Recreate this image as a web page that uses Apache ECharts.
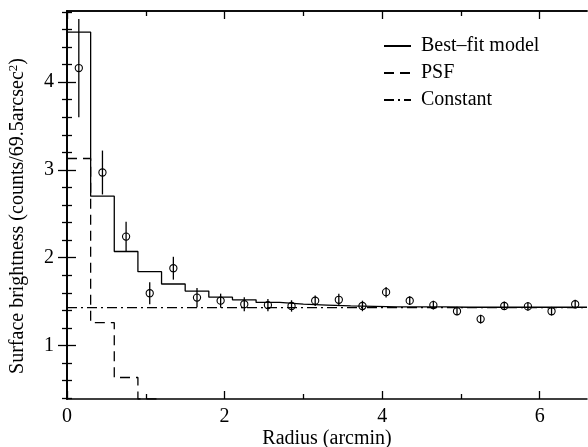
<!DOCTYPE html>
<html lang="en" style="height: 100%;">

<head>
    <meta charset="UTF-8">
    <title>Surface brightness profile</title>
    <script src="https://cdn.jsdelivr.net/npm/echarts@6.0.0/dist/echarts.min.js"></script>
</head>

<body style="margin: 0; height: 100%; background: #fff;">

    <div style="width: 588px;height: 447px;" id="profileChart"></div>

    <script>

        // observed profile (bin centres, values, 1-sigma errors)
        var radius = [0.15, 0.45, 0.75, 1.05, 1.35, 1.65, 1.95, 2.25, 2.55, 2.85, 3.15,
            3.45, 3.75, 4.05, 4.35, 4.65, 4.95, 5.25, 5.55, 5.85, 6.15, 6.45]
        var brightness = [4.16, 2.97, 2.24, 1.595, 1.88, 1.545, 1.51, 1.47, 1.46, 1.45, 1.51,
            1.52, 1.45, 1.607, 1.51, 1.46, 1.39, 1.30, 1.45, 1.445, 1.39, 1.47]
        var brightnessErr = [0.56, 0.25, 0.17, 0.125, 0.13, 0.11, 0.08, 0.08, 0.07, 0.065, 0.06,
            0.07, 0.06, 0.06, 0.05, 0.05, 0.05, 0.05, 0.05, 0.05, 0.05, 0.05]

        // model histograms: bin edges and one value per bin
        var binEdges = [0, 0.3, 0.6, 0.9, 1.2, 1.5, 1.8, 2.1, 2.4, 2.7, 3.0, 3.3,
            3.6, 3.9, 4.2, 4.5, 4.8, 5.1, 5.4, 5.7, 6.0, 6.3, 6.6]
        var bestFit = [4.57, 2.70, 2.07, 1.84, 1.70, 1.62, 1.55, 1.52, 1.49, 1.47, 1.46,
            1.45, 1.445, 1.44, 1.44, 1.44, 1.435, 1.435, 1.435, 1.435, 1.435, 1.435]
        var psf = [3.13, 1.26, 0.635, 0.39, 0.27, 0.19]
        var constantLevel = 1.43

        var xMajorTicks = [0, 2, 4, 6]
        var xMinorTicks = [1, 3, 5]
        var yMajorTicks = [1, 2, 3, 4]
        var yMinorTicks = [0.4, 0.6, 0.8, 1.2, 1.4, 1.6, 1.8, 2.2, 2.4, 2.6, 2.8,
            3.2, 3.4, 3.6, 3.8, 4.2, 4.4, 4.6, 4.8]

        var fontName = 'Liberation Serif'

        function stepData(values) {
            var out = values.map((v, i) => [binEdges[i], v])
            out.push([binEdges[values.length], values[values.length - 1]])
            return out
        }

        function makeX(pos, ticks, len, labels) {
            return {
                type: 'value', position: pos, min: 0, max: 6.6,
                axisLine: { show: !!labels || pos == 'top', lineStyle: { color: '#000', width: 1.5 } },
                axisTick: { show: true, inside: true, length: len, customValues: ticks, lineStyle: { color: '#000', width: 1.3 } },
                axisLabel: labels ? { show: true, customValues: ticks, margin: 8, color: '#000', fontFamily: fontName, fontSize: 20 } : { show: false },
                splitLine: { show: false }
            }
        }

        function makeY(pos, ticks, len, labels) {
            return {
                type: 'value', position: pos, min: 0.39, max: 4.81,
                axisLine: { show: !!labels || pos == 'right', lineStyle: { color: '#000', width: 1.5 } },
                axisTick: { show: true, inside: true, length: len, customValues: ticks, lineStyle: { color: '#000', width: 1.3 } },
                axisLabel: labels ? { show: true, customValues: ticks, margin: 13, color: '#000', fontFamily: fontName, fontSize: 20 } : { show: false },
                splitLine: { show: false }
            }
        }

        var xMain = makeX('bottom', xMajorTicks, 8, true)
        xMain.name = 'Radius (arcmin)'
        xMain.nameLocation = 'middle'
        xMain.nameGap = 30
        xMain.nameMoveOverlap = false
        xMain.nameTextStyle = { color: '#000', fontFamily: fontName, fontSize: 20 }

        let chart = echarts.init(document.getElementById('profileChart'))

        var option = {
            animation: false,
            backgroundColor: '#fff',
            grid: { left: 67, right: 1, top: 11, bottom: 48, containLabel: false, outerBoundsMode: 'none' },
            legend: {
                data: ['Best\u2013fit model', 'PSF', 'Constant'],
                orient: 'vertical',
                left: 378, top: 31,
                itemWidth: 27, itemHeight: 14, itemGap: 7,
                itemStyle: { opacity: 0 },
                textStyle: { color: '#000', fontFamily: fontName, fontSize: 20, padding: [0, 0, 0, 5] }
            },
            // y title as rotated text, superscript via rich text
            graphic: [{
                type: 'text',
                x: 18, y: 216,
                rotation: Math.PI / 2,
                style: {
                    text: 'Surface brightness (counts/69.5arcsec{sup|2})',
                    font: '20px "Liberation Serif"',
                    fill: '#000',
                    align: 'center',
                    verticalAlign: 'middle',
                    rich: {
                        sup: { fontSize: 13, fontFamily: fontName, verticalAlign: 'top', padding: [0, 0, 8, 0] }
                    }
                }
            }],
            xAxis: [
                xMain,
                makeX('bottom', xMinorTicks, 5, false),
                makeX('top', xMajorTicks, 8, false),
                makeX('top', xMinorTicks, 5, false)
            ],
            yAxis: [
                makeY('left', yMajorTicks, 9, true),
                makeY('left', yMinorTicks, 5, false),
                makeY('right', yMajorTicks, 9, false),
                makeY('right', yMinorTicks, 5, false)
            ],
            series: [
                {
                    name: 'Best\u2013fit model',
                    type: 'line', step: 'end', symbol: 'none',
                    color: '#000',
                    data: stepData(bestFit),
                    lineStyle: { color: '#000', width: 1.3 }
                },
                {
                    name: 'PSF',
                    type: 'line', step: 'end', symbol: 'none',
                    color: '#000',
                    data: stepData(psf),
                    lineStyle: { color: '#000', width: 1.3, type: [10, 6] }
                },
                {
                    name: 'Constant',
                    type: 'line', symbol: 'none',
                    color: '#000',
                    data: [[0, constantLevel], [6.6, constantLevel]],
                    lineStyle: { color: '#000', width: 1.2, type: [10, 4, 2, 4] }
                },
                {
                    name: 'Data',
                    type: 'custom',
                    data: radius.map((r, i) => [r, brightness[i], brightnessErr[i]]),
                    renderItem: function (params, api) {
                        var c = api.coord([api.value(0), api.value(1)])
                        var hi = api.coord([api.value(0), api.value(1) + api.value(2)])
                        var lo = api.coord([api.value(0), api.value(1) - api.value(2)])
                        return {
                            type: 'group',
                            children: [
                                { type: 'line', shape: { x1: c[0], y1: hi[1], x2: c[0], y2: lo[1] }, style: { stroke: '#000', lineWidth: 1.3 } },
                                { type: 'circle', shape: { cx: c[0], cy: c[1], r: 3.6 }, style: { stroke: '#000', fill: 'none', lineWidth: 1.1 } }
                            ]
                        }
                    }
                }
            ]
        }

        chart.setOption(option)

    </script>

</body>

</html>
